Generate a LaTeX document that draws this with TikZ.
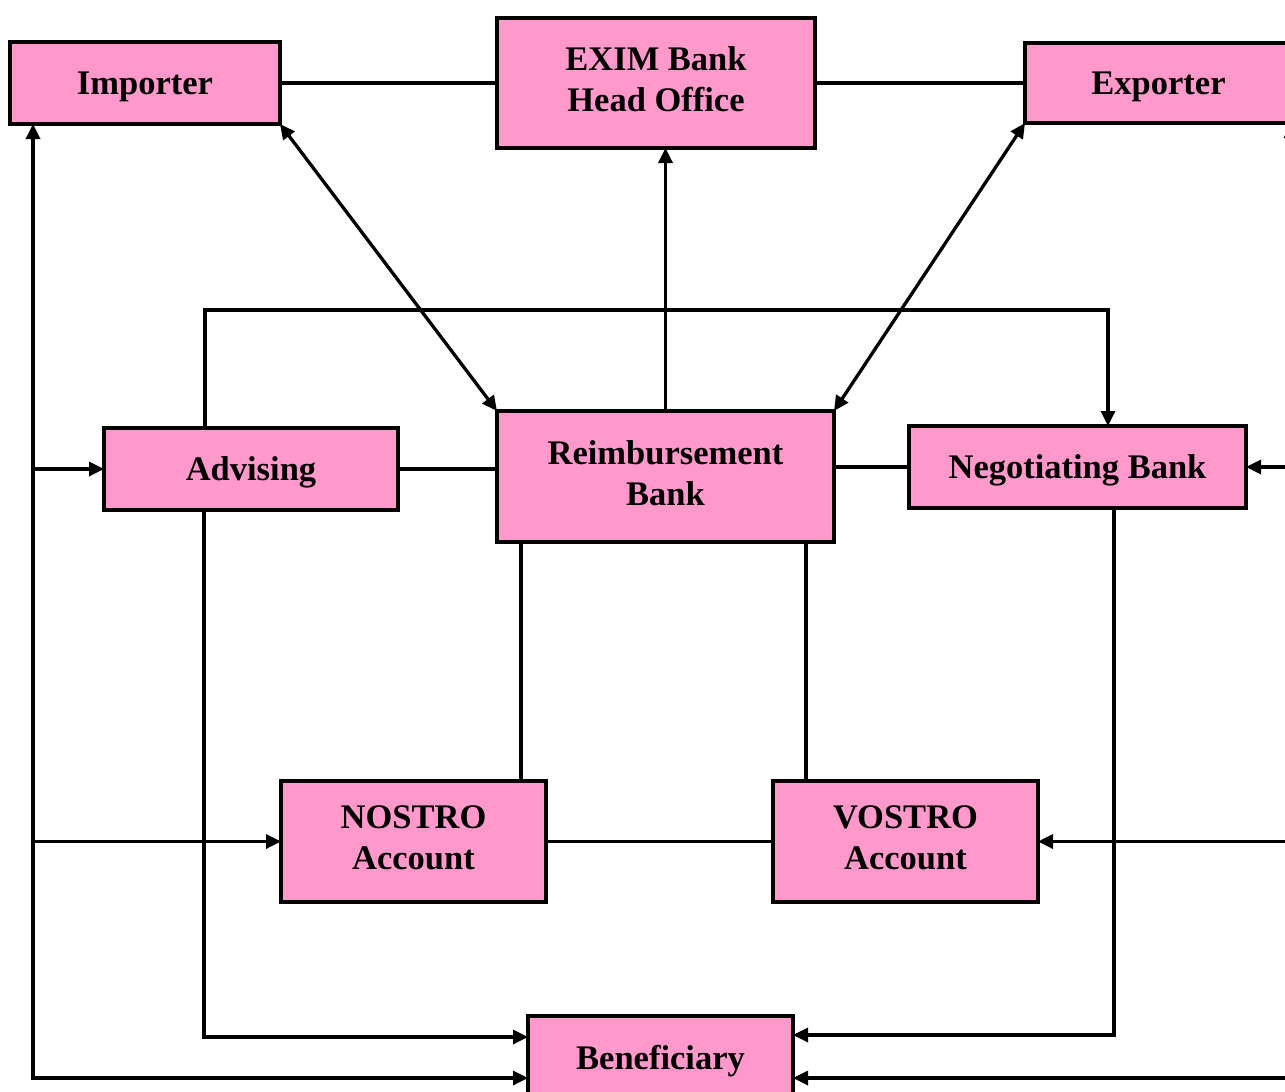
\documentclass[tikz,border=0pt]{standalone}
\usepackage{fontspec}
\setmainfont{Liberation Serif}
\usetikzlibrary{arrows.meta}
\definecolor{boxpink}{RGB}{255,153,204}
\begin{document}
\begin{tikzpicture}[x=1pt,y=-1pt,
  box/.style={draw=black,fill=boxpink,line width=3.4pt,rectangle,inner sep=0pt,outer sep=0pt,
    align=center,font=\fontsize{34.5}{41}\selectfont\bfseries},
  oneline/.style={text height=23pt,text depth=0pt},
  twoline/.style={text depth=7pt},
  conn/.style={line width=3.3pt},
  >={Triangle[length=15pt,width=14pt]}]
\useasboundingbox (0,0) rectangle (1285,1092);
\clip (0,0) rectangle (1285,1092);
% nodes
\node[box,oneline,minimum width=270pt,minimum height=82pt] (imp) at (145,83) {Importer};
\node[box,twoline,minimum width=318pt,minimum height=130pt] (exim) at (656,83) {EXIM Bank\\Head Office};
\node[box,oneline,minimum width=267pt,minimum height=80pt] (exp) at (1158.5,83) {Exporter};
\node[box,oneline,minimum width=294pt,minimum height=82pt] (adv) at (251,469) {Advising};
\node[box,twoline,minimum width=337pt,minimum height=131pt] (reim) at (665.5,476.5) {Reimbursement\\Bank};
\node[box,oneline,minimum width=337pt,minimum height=82pt] (neg) at (1077.5,467) {Negotiating Bank};
\node[box,twoline,minimum width=265pt,minimum height=121pt] (nos) at (413.5,841.5) {NOSTRO\\Account};
\node[box,twoline,minimum width=265pt,minimum height=121pt] (vos) at (905.5,841.5) {VOSTRO\\Account};
\node[box,oneline,minimum width=265pt,minimum height=84pt] (ben) at (660.5,1058) {Beneficiary};
% helper coordinates
\coordinate (lb) at (33,1078);
\coordinate (rb) at (1291,1078);
\coordinate (tl) at (205,310);
\coordinate (tr) at (1108,310);
\coordinate (a1) at (204,1037);
\coordinate (n1) at (1114,1035);
\coordinate (c1) at (521,0);
\coordinate (c2) at (806,0);
% connectors
\draw[conn] (imp) -- (exim);
\draw[conn] (exim) -- (exp);
\draw[conn,<->] (imp.south east) -- (reim.north west);
\draw[conn,<->] (exp.south west) -- (reim.north east);
\draw[conn,->] (reim.north) -- (reim.north |- exim.south);
\draw[conn,->] (tl |- adv.north) -- (tl) -- (tr) -- (tr |- neg.north);
\draw[conn] (adv) -- (adv -| reim.west);
\draw[conn] (neg.west) -- (neg.west -| reim.east);
\draw[conn] (c1 |- reim.south) -- (c1 |- nos.north);
\draw[conn] (c2 |- reim.south) -- (c2 |- vos.north);
\draw[conn] (nos) -- (vos);
% left bus
\draw[conn,<->] (lb |- imp.south) -- (lb) -- (lb -| ben.west);
\draw[conn,->] (lb |- adv) -- (adv.west);
\draw[conn,->] (lb |- nos) -- (nos.west);
% advising down to beneficiary
\draw[conn,->] (a1 |- adv.south) -- (a1) -- (a1 -| ben.west);
% negotiating down to beneficiary
\draw[conn,->] (n1 |- neg.south) -- (n1) -- (n1 -| ben.east);
% right bus
\draw[conn,->] (rb) -- (rb |- exp.south);
\draw[conn,->] (rb |- neg) -- (neg.east);
\draw[conn,->] (rb |- vos) -- (vos.east);
\draw[conn,->] (rb) -- (rb -| ben.east);
\end{tikzpicture}
\end{document}
